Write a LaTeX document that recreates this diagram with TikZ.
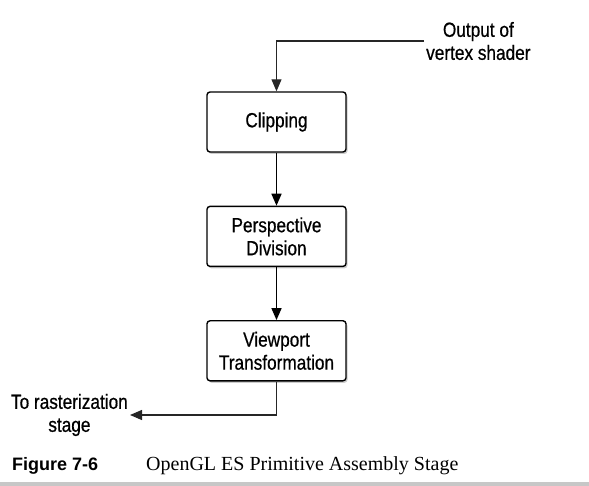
\documentclass[tikz,border=0pt]{standalone}
\usepackage{fontspec}
\setmainfont{Liberation Serif}
\newfontfamily\labelfont[FakeStretch=0.84, FakeBold=0.6]{Liberation Sans}
\newfontfamily\capfont{Liberation Sans}
\usetikzlibrary{arrows.meta, positioning, shadows}

\begin{document}
\begin{tikzpicture}[x=1pt, y=-1pt, node distance=53pt,
    stage/.style={draw, line width=1.4pt, rounded corners=3pt, fill=white,
      minimum width=139pt, minimum height=60pt, align=center, inner sep=2pt,
      font=\labelfont\fontsize{20.5}{23}\selectfont,
      drop shadow={shadow xshift=1.5pt, shadow yshift=-2pt, opacity=0.4}},
    note/.style={align=center, inner sep=2pt, font=\labelfont\fontsize{20.5}{23}\selectfont},
    arr/.style={-{Triangle[length=12pt, width=10pt]}, line width=1.6pt},
    io/.style={-{Triangle[length=12pt, width=10pt]}, line width=1.1pt, black!85}]
    \useasboundingbox (0,0) rectangle (589,486);
    \fill[black!22] (0,482) rectangle (589,486);
    \node[stage] (clip) at (276.5,122) {Clipping};
    \node[stage, below=of clip] (persp) {Perspective\\Division};
    \node[stage, below=of persp] (view) {Viewport\\Transformation};
    \node[note, anchor=west] (src) at (424,41) {Output of\\vertex shader};
    \node[note, anchor=east] (dst) at (130,415) {To rasterization\\stage};
    \draw[io] (src.west) -| (clip.north);
    \draw[arr] (clip) -- (persp);
    \draw[arr] (persp) -- (view);
    \draw[io] (view.south) |- (dst.east);
    % caption
    \node[anchor=base west, inner sep=0pt, font=\capfont\bfseries\fontsize{18}{20}\selectfont] (fig) at (12,470) {Figure 7-6};
    \node[anchor=base west, inner sep=0pt, font=\fontsize{20}{22}\selectfont] (title) at (146,470) {OpenGL ES Primitive Assembly Stage};
\end{tikzpicture}
\end{document}
